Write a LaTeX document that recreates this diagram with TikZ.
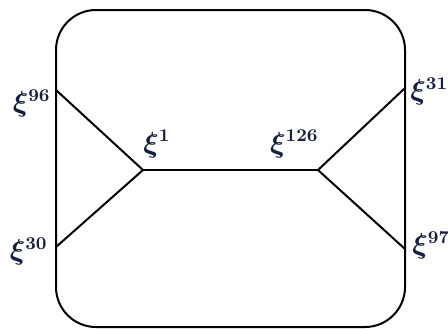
\documentclass[tikz,border=0pt]{standalone}
\usepackage{amsmath,amssymb,bm}
\usepackage{xcolor}
\usepackage{tikz}
\usetikzlibrary{positioning}
\definecolor{lblnavy}{RGB}{22,32,62}
\tikzset{
  frame/.style = {draw=black, line width=1pt, rounded corners=20pt},
  edge/.style  = {draw=black, line width=1pt},
  lbl/.style   = {inner sep=0pt, text=lblnavy, font=\fontsize{13.5}{16}\selectfont},
}
\newcommand{\xilbl}[1]{$\bm{\xi}^{\mathbf{#1}}$}

\begin{document}
\begin{tikzpicture}[x=0.5pt, y=-0.5pt]
  \useasboundingbox (0,0) rectangle (448,328);
  \begin{scope}
    \clip (0,0) rectangle (448,328);
    \draw[frame] (56,10) rectangle (405,327);
  \end{scope}
  % points on the frame and inner vertices
  \coordinate (p96)  at (56,90);
  \coordinate (p30)  at (56,247);
  \coordinate (p31)  at (405,88);
  \coordinate (p97)  at (405,249);
  \coordinate (v1)   at (143,170);
  \coordinate (v126) at (318,170);
  % edges
  \draw[edge] (p96) -- (v1) -- (p30);
  \draw[edge] (v1) -- (v126);
  \draw[edge] (p31) -- (v126) -- (p97);
  % labels
  \node[lbl, anchor=north east] (l96)  at (51,89)   {\xilbl{96}};
  \node[lbl, anchor=north east] (l30)  at (48,237)  {\xilbl{30}};
  \node[lbl, anchor=south west] (l1)   at (143,158) {\xilbl{1}};
  \node[lbl, anchor=south east] (l126) at (319,158) {\xilbl{126}};
  \node[lbl, anchor=north west] (l31)  at (410,77)  {\xilbl{31}};
  \node[lbl, anchor=north west] (l97)  at (412,231) {\xilbl{97}};
\end{tikzpicture}
\end{document}
